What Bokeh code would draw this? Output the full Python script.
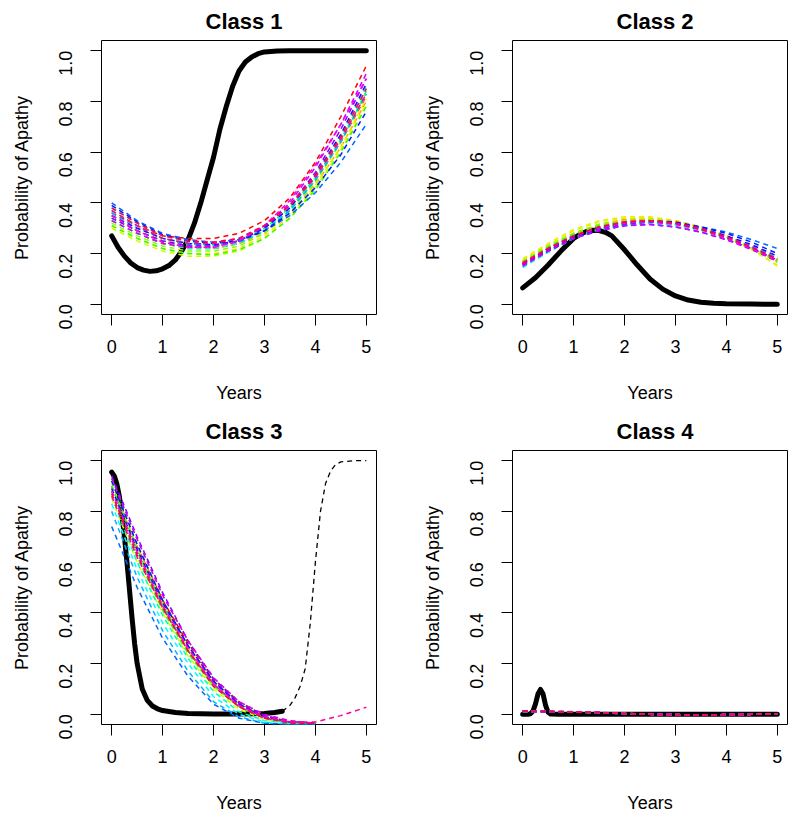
import math

from bokeh.embed import file_html
from bokeh.layouts import column, row
from bokeh.models import FixedTicker, NumeralTickFormatter, Range1d
from bokeh.plotting import figure
from bokeh.resources import INLINE

NAN = float("nan")

# Common time grid (years) for the dashed trajectories
years = [0.0, 0.5, 1.0, 1.5, 2.0, 2.5, 3.0, 3.5, 4.0, 4.5, 5.0]

x_ticks = [0, 1, 2, 3, 4, 5]
y_ticks = [0.0, 0.2, 0.4, 0.6, 0.8, 1.0]

titles = ["Class 1", "Class 2", "Class 3", "Class 4"]

# rainbow(20) palette used for the individual trajectories
palette = [
    "#FF0000", "#FF4D00", "#FF9900", "#FFE500", "#CCFF00",
    "#80FF00", "#33FF00", "#00FF19", "#00FF66", "#00FFB2",
    "#00FFFF", "#00B3FF", "#0066FF", "#001AFF", "#3300FF",
    "#8000FF", "#CC00FF", "#FF00E6", "#FF0099", "#FF004D",
]

# ---- Class 1 -------------------------------------------------------------
class1_mean_x = [0.0, 0.125, 0.25, 0.375, 0.5, 0.625, 0.75, 0.875, 1.0, 1.125,
                 1.25, 1.375, 1.5, 1.625, 1.75, 1.875, 2.0, 2.125, 2.25, 2.375,
                 2.5, 2.625, 2.75, 2.875, 3.0, 3.25, 3.5, 4.0, 4.5, 5.0]
class1_mean_y = [0.27, 0.225, 0.19, 0.163, 0.145, 0.135, 0.13, 0.132, 0.14, 0.153,
                 0.175, 0.21, 0.255, 0.32, 0.40, 0.49, 0.58, 0.69, 0.78, 0.86,
                 0.92, 0.955, 0.975, 0.988, 0.995, 0.999, 1.0, 1.0, 1.0, 1.0]
class1_curves = [
    [0.36, 0.31, 0.27, 0.26, 0.26, 0.28, 0.33, 0.42, 0.56, 0.74, 0.94],
    [0.33, 0.28, 0.24, 0.22, 0.22, 0.24, 0.29, 0.37, 0.49, 0.64, 0.82],
    [0.35, 0.29, 0.25, 0.23, 0.22, 0.24, 0.28, 0.36, 0.47, 0.62, 0.80],
    [0.31, 0.26, 0.22, 0.20, 0.20, 0.22, 0.27, 0.35, 0.47, 0.62, 0.81],
    [0.30, 0.25, 0.21, 0.19, 0.19, 0.21, 0.26, 0.34, 0.46, 0.61, 0.79],
    [0.32, 0.27, 0.23, 0.21, 0.21, 0.23, 0.28, 0.36, 0.48, 0.64, 0.84],
    [0.31, 0.26, 0.22, 0.20, 0.195, 0.215, 0.26, 0.34, 0.45, 0.60, 0.78],
    [0.34, 0.29, 0.25, 0.23, 0.23, 0.25, 0.30, 0.38, 0.50, 0.66, 0.85],
    [0.37, 0.31, 0.26, 0.24, 0.235, 0.25, 0.30, 0.38, 0.50, 0.65, 0.83],
    [0.33, 0.28, 0.24, 0.22, 0.22, 0.24, 0.29, 0.37, 0.49, 0.65, 0.84],
    [0.38, 0.32, 0.27, 0.245, 0.24, 0.26, 0.31, 0.39, 0.51, 0.67, 0.86],
    [0.36, 0.30, 0.26, 0.235, 0.23, 0.245, 0.29, 0.37, 0.49, 0.64, 0.83],
    [0.40, 0.33, 0.28, 0.255, 0.245, 0.255, 0.29, 0.35, 0.44, 0.56, 0.71],
    [0.39, 0.325, 0.275, 0.25, 0.24, 0.25, 0.29, 0.36, 0.46, 0.59, 0.76],
    [0.35, 0.30, 0.26, 0.24, 0.235, 0.25, 0.30, 0.38, 0.51, 0.67, 0.87],
    [0.34, 0.29, 0.25, 0.23, 0.23, 0.25, 0.305, 0.39, 0.52, 0.69, 0.89],
    [0.33, 0.28, 0.24, 0.225, 0.225, 0.25, 0.31, 0.40, 0.54, 0.71, 0.91],
    [0.35, 0.29, 0.245, 0.225, 0.225, 0.25, 0.31, 0.41, 0.55, 0.71, 0.89],
    [0.37, 0.31, 0.26, 0.24, 0.24, 0.26, 0.31, 0.39, 0.50, 0.65, 0.83],
    [0.38, 0.32, 0.27, 0.25, 0.245, 0.26, 0.31, 0.39, 0.51, 0.66, 0.85],
]

# ---- Class 2 -------------------------------------------------------------
class2_mean_x = [0.0, 0.25, 0.5, 0.75, 1.0, 1.125, 1.25, 1.375, 1.5, 1.625,
                 1.75, 2.0, 2.25, 2.5, 2.75, 3.0, 3.25, 3.5, 3.75, 4.0, 4.5, 5.0]
class2_mean_y = [0.065, 0.105, 0.155, 0.21, 0.26, 0.276, 0.287, 0.292, 0.291, 0.284,
                 0.27, 0.215, 0.155, 0.10, 0.06, 0.033, 0.017, 0.008, 0.004,
                 0.002, 0.001, 0.0]
class2_curves = [
    [0.16, 0.22, 0.27, 0.305, 0.325, 0.33, 0.32, 0.30, 0.265, 0.225, 0.18],
    [0.165, 0.225, 0.275, 0.31, 0.33, 0.335, 0.325, 0.30, 0.27, 0.225, 0.175],
    [0.17, 0.23, 0.28, 0.315, 0.335, 0.34, 0.33, 0.305, 0.27, 0.225, 0.17],
    [0.18, 0.24, 0.295, 0.33, 0.345, 0.345, 0.33, 0.305, 0.27, 0.22, 0.15],
    [0.175, 0.235, 0.29, 0.325, 0.34, 0.34, 0.325, 0.30, 0.265, 0.215, 0.155],
    [0.17, 0.23, 0.28, 0.315, 0.33, 0.335, 0.325, 0.30, 0.265, 0.22, 0.165],
    [0.165, 0.225, 0.275, 0.31, 0.325, 0.33, 0.32, 0.295, 0.26, 0.22, 0.17],
    [0.16, 0.22, 0.27, 0.30, 0.32, 0.325, 0.315, 0.295, 0.26, 0.22, 0.175],
    [0.15, 0.21, 0.265, 0.30, 0.32, 0.325, 0.315, 0.295, 0.265, 0.225, 0.18],
    [0.145, 0.205, 0.26, 0.295, 0.315, 0.32, 0.315, 0.295, 0.265, 0.225, 0.185],
    [0.15, 0.21, 0.26, 0.295, 0.315, 0.32, 0.31, 0.29, 0.26, 0.225, 0.18],
    [0.155, 0.215, 0.265, 0.30, 0.32, 0.325, 0.32, 0.30, 0.27, 0.23, 0.19],
    [0.155, 0.21, 0.26, 0.295, 0.315, 0.325, 0.32, 0.305, 0.285, 0.255, 0.22],
    [0.16, 0.215, 0.265, 0.30, 0.32, 0.33, 0.325, 0.305, 0.28, 0.245, 0.20],
    [0.16, 0.22, 0.27, 0.30, 0.32, 0.325, 0.32, 0.30, 0.27, 0.235, 0.19],
    [0.155, 0.21, 0.26, 0.29, 0.31, 0.315, 0.305, 0.285, 0.255, 0.22, 0.175],
    [0.15, 0.21, 0.26, 0.29, 0.31, 0.315, 0.305, 0.285, 0.255, 0.215, 0.17],
    [0.16, 0.22, 0.27, 0.30, 0.32, 0.325, 0.315, 0.295, 0.26, 0.22, 0.175],
    [0.165, 0.22, 0.27, 0.305, 0.325, 0.33, 0.32, 0.30, 0.265, 0.225, 0.18],
    [0.16, 0.22, 0.27, 0.305, 0.325, 0.33, 0.32, 0.295, 0.265, 0.225, 0.18],
]

# ---- Class 3 -------------------------------------------------------------
class3_mean_x = [0.0, 0.05, 0.1, 0.15, 0.2, 0.25, 0.3, 0.35, 0.4, 0.45, 0.5,
                 0.6, 0.7, 0.8, 0.9, 1.0, 1.25, 1.5, 2.0, 2.5, 3.0, 3.2, 3.35]
class3_mean_y = [0.955, 0.94, 0.91, 0.86, 0.79, 0.70, 0.60, 0.49, 0.38, 0.28, 0.20,
                 0.10, 0.055, 0.033, 0.022, 0.015, 0.007, 0.003, 0.001, 0.001,
                 0.003, 0.007, 0.012]
# continuation of the class mean beyond the observed range
class3_tail_x = [3.35, 3.5, 3.6, 3.7, 3.8, 3.9, 4.0, 4.1, 4.2, 4.3, 4.4, 4.5,
                 4.75, 5.0]
class3_tail_y = [0.012, 0.035, 0.065, 0.11, 0.18, 0.36, 0.60, 0.80, 0.91, 0.96,
                 0.985, 0.995, 1.0, 1.0]
class3_curves = [
    [0.90, 0.66, 0.45, 0.28, 0.14, 0.05, -0.005, -0.03, -0.035, NAN, NAN],
    [0.88, 0.64, 0.43, 0.26, 0.12, 0.035, -0.01, -0.03, -0.035, NAN, NAN],
    [0.93, 0.69, 0.47, 0.29, 0.14, 0.045, -0.005, -0.025, -0.035, NAN, NAN],
    [0.91, 0.66, 0.44, 0.26, 0.12, 0.03, -0.015, -0.03, -0.035, NAN, NAN],
    [0.85, 0.60, 0.40, 0.23, 0.10, 0.02, -0.02, -0.035, -0.035, NAN, NAN],
    [0.89, 0.64, 0.42, 0.25, 0.11, 0.03, -0.015, -0.035, -0.035, NAN, NAN],
    [0.87, 0.62, 0.41, 0.24, 0.11, 0.03, -0.015, -0.03, -0.035, NAN, NAN],
    [0.92, 0.67, 0.45, 0.27, 0.13, 0.04, -0.01, -0.03, -0.035, NAN, NAN],
    [0.90, 0.65, 0.43, 0.25, 0.115, 0.03, -0.015, -0.035, -0.035, NAN, NAN],
    [0.86, 0.60, 0.39, 0.22, 0.09, 0.01, -0.025, -0.035, -0.035, NAN, NAN],
    [0.83, 0.57, 0.36, 0.20, 0.07, 0.0, -0.03, -0.04, -0.04, NAN, NAN],
    [0.80, 0.54, 0.33, 0.17, 0.05, -0.01, -0.035, -0.04, -0.04, NAN, NAN],
    [0.74, 0.50, 0.30, 0.15, 0.04, -0.015, -0.035, -0.04, -0.04, NAN, NAN],
    [0.92, 0.67, 0.45, 0.27, 0.13, 0.04, -0.01, -0.03, -0.035, NAN, NAN],
    [0.89, 0.65, 0.44, 0.27, 0.13, 0.04, -0.01, -0.03, -0.035, NAN, NAN],
    [0.94, 0.70, 0.48, 0.29, 0.14, 0.045, -0.005, -0.03, -0.035, NAN, NAN],
    [0.93, 0.69, 0.47, 0.29, 0.145, 0.05, 0.0, -0.025, -0.035, NAN, NAN],
    [0.88, 0.64, 0.43, 0.26, 0.12, 0.035, -0.01, -0.03, -0.035, NAN, NAN],
    [0.86, 0.62, 0.42, 0.25, 0.12, 0.03, -0.015, -0.03, -0.03, -0.005, 0.028],
    [0.87, 0.63, 0.42, 0.25, 0.11, 0.03, -0.015, -0.035, -0.035, NAN, NAN],
]

# ---- Class 4 -------------------------------------------------------------
class4_mean_x = [0.0, 0.1, 0.15, 0.2, 0.25, 0.3, 0.35, 0.4, 0.45, 0.5, 0.55,
                 0.7, 1.0, 2.0, 3.0, 4.0, 5.0]
class4_mean_y = [0.0, 0.0, 0.002, 0.012, 0.04, 0.08, 0.098, 0.08, 0.035, 0.008,
                 0.001, 0.0, 0.0, 0.0, 0.0, 0.0, 0.0]
class4_curves = [
    [0.012, 0.011, 0.010, 0.007, 0.003, 0.0, -0.001, -0.002, -0.001, 0.0, 0.001],
    [0.011, 0.011, 0.009, 0.007, 0.003, 0.0, -0.001, -0.002, -0.001, 0.0, 0.001],
    [0.013, 0.012, 0.010, 0.007, 0.003, 0.0, -0.002, -0.002, -0.001, 0.0, 0.0],
    [0.012, 0.012, 0.010, 0.008, 0.004, 0.001, -0.001, -0.002, -0.001, 0.0, 0.001],
    [0.011, 0.010, 0.009, 0.006, 0.003, 0.0, -0.001, -0.002, -0.001, 0.0, 0.001],
    [0.012, 0.011, 0.010, 0.007, 0.003, 0.0, -0.001, -0.002, -0.001, 0.0, 0.001],
    [0.010, 0.010, 0.009, 0.006, 0.002, 0.0, -0.001, -0.002, -0.001, 0.0, 0.0],
    [0.012, 0.011, 0.010, 0.007, 0.003, 0.0, -0.001, -0.002, -0.001, 0.0, 0.001],
    [0.013, 0.012, 0.011, 0.008, 0.004, 0.001, -0.001, -0.002, -0.001, 0.0, 0.001],
    [0.011, 0.011, 0.009, 0.007, 0.003, 0.0, -0.001, -0.002, -0.001, 0.0, 0.001],
    [0.012, 0.011, 0.010, 0.007, 0.003, 0.0, -0.001, -0.002, -0.001, 0.0, 0.001],
    [0.012, 0.011, 0.010, 0.007, 0.003, 0.0, -0.001, -0.002, -0.001, 0.0, 0.001],
    [0.011, 0.010, 0.009, 0.006, 0.003, 0.0, -0.001, -0.002, -0.001, 0.0, 0.001],
    [0.012, 0.011, 0.010, 0.007, 0.003, 0.0, -0.001, -0.002, -0.001, 0.0, 0.001],
    [0.013, 0.012, 0.010, 0.007, 0.003, 0.0, -0.001, -0.002, -0.001, 0.0, 0.001],
    [0.012, 0.011, 0.010, 0.007, 0.003, 0.0, -0.001, -0.002, -0.001, 0.0, 0.001],
    [0.011, 0.011, 0.010, 0.007, 0.003, 0.0, -0.001, -0.002, -0.001, 0.0, 0.001],
    [0.012, 0.011, 0.010, 0.007, 0.003, 0.0, -0.001, -0.002, -0.001, 0.0, 0.001],
    [0.012, 0.012, 0.010, 0.008, 0.003, 0.0, -0.001, -0.002, -0.001, 0.0, 0.001],
    [0.012, 0.011, 0.010, 0.007, 0.003, 0.0, -0.001, -0.002, -0.001, 0.0, 0.001],
]

FONT = "Liberation Sans"


def make_panel(title, curves, mean_x, mean_y, width, height,
               border_left, border_right, border_top, border_bottom,
               tail_x=None, tail_y=None):
    p = figure(
        width=width, height=height,
        x_range=Range1d(-0.2, 5.2), y_range=Range1d(-0.04, 1.04),
        output_backend="svg", toolbar_location=None, tools="",
        min_border_left=border_left, min_border_right=border_right,
        min_border_top=border_top, min_border_bottom=border_bottom,
        background_fill_color="white", border_fill_color="white",
    )
    p.outline_line_color = "black"
    p.outline_line_width = 1
    p.outline_line_alpha = 1.0
    p.xgrid.visible = False
    p.ygrid.visible = False

    # panel title
    p.title.text = title
    p.title.text_font = FONT
    p.title.text_font_size = "22px"
    p.title.text_font_style = "bold"
    p.title.text_color = "black"
    p.title.align = "left"
    p.title.offset = 104
    p.title.standoff = 13

    for ax in (p.xaxis[0], p.yaxis[0]):
        ax.axis_line_color = None
        ax.major_tick_line_color = "black"
        ax.major_tick_line_width = 1
        ax.major_tick_out = 11
        ax.major_tick_in = 0
        ax.minor_tick_line_color = None
        ax.major_label_text_font = FONT
        ax.major_label_text_font_size = "18px"
        ax.major_label_text_color = "black"
        ax.axis_label_text_font = FONT
        ax.axis_label_text_font_size = "18px"
        ax.axis_label_text_font_style = "normal"
        ax.axis_label_text_color = "black"

    p.xaxis.ticker = FixedTicker(ticks=x_ticks)
    p.xaxis.formatter = NumeralTickFormatter(format="0")
    p.xaxis.axis_label = "Years"
    p.xaxis.major_label_standoff = 14
    p.xaxis.axis_label_standoff = 27

    p.yaxis.ticker = FixedTicker(ticks=y_ticks)
    p.yaxis.formatter = NumeralTickFormatter(format="0.0")
    p.yaxis.axis_label = "Probability of Apathy"
    p.yaxis.major_label_orientation = math.pi / 2
    p.yaxis.major_label_standoff = 25
    p.yaxis.axis_label_standoff = 18

    # class mean trajectory (thick black), drawn first
    p.line(mean_x, mean_y, line_color="black", line_width=5,
           line_join="round", line_cap="round")
    if tail_x is not None:
        p.line(tail_x, tail_y, line_color="black", line_width=1.3,
               line_dash="5 4")

    # individual trajectories (dashed), drawn on top
    for i, ys in enumerate(curves):
        p.line(years, ys, line_color=palette[i % len(palette)], line_width=1.5,
               line_dash="5 4")
    return p


p1 = make_panel(titles[0], class1_curves, class1_mean_x, class1_mean_y,
                399, 409, 101, 23, 40, 95)
p2 = make_panel(titles[1], class2_curves, class2_mean_x, class2_mean_y,
                399, 409, 113, 11, 40, 95)
p3 = make_panel(titles[2], class3_curves, class3_mean_x, class3_mean_y,
                399, 408, 101, 23, 41, 93, class3_tail_x, class3_tail_y)
p4 = make_panel(titles[3], class4_curves, class4_mean_x, class4_mean_y,
                399, 408, 113, 11, 41, 93)

layout = column(row(p1, p2), row(p3, p4))

open("out.html", "w").write(file_html(layout, INLINE))
